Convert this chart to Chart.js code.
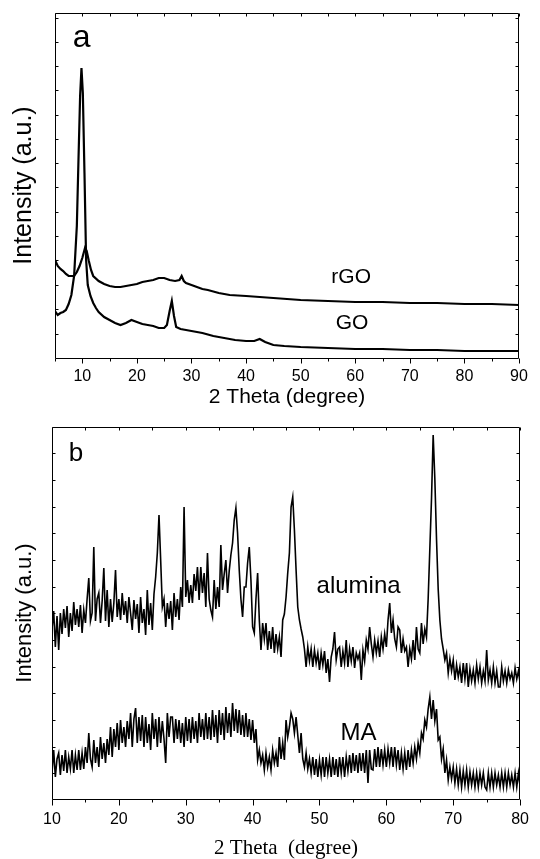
<!DOCTYPE html>
<html>
<head>
<meta charset="utf-8">
<script src="https://cdn.jsdelivr.net/npm/chart.js@4.4.1/dist/chart.umd.min.js"></script>
<style>
  html, body { margin: 0; padding: 0; background: #fff; }
  body { width: 540px; height: 859px; position: relative; overflow: hidden; }
  canvas { position: absolute; left: 0; }
  #ca { top: 0; }
  #cb { top: 420px; }
</style>
</head>
<body>
<canvas id="ca" width="540" height="420"></canvas>
<canvas id="cb" width="540" height="439"></canvas>
<script>
// ---------- Panel (a): GO / rGO ----------
const xTicksA = [10, 20, 30, 40, 50, 60, 70, 80, 90];
const xMinorA = [5, 10, 15, 20, 25, 30, 35, 40, 45, 50, 55, 60, 65, 70, 75, 80, 85, 90];
const yTicksA = [24, 49, 73, 98, 122, 146, 171, 195, 219, 243, 268, 292, 316, 340];

const goTheta = [5,5.5,6,6.5,7,7.5,8,8.5,9,9.3,
  9.6,9.85,10.1,10.4,10.7,11,11.5,12,12.5,13,
  14,15,16,17,18,19,20,21,22,23,
  24,25,25.5,26,26.4,26.8,27.2,28,29,30,
  32,34,36,38,40,41.5,42.5,43.5,45,47,
  50,55,60,65,70,75,80,85,90];
const goIntensity = [47,43,45,46,48,54,63,82,132,198,
  262,290,265,185,98,73,62,55,50,46,
  41,38,35,33,35,38,36,34,33,32,
  30,30,33,47,57,42,31,29,28,27,
  25,22,20,18,17,17,19,16,13,12,
  11,10,9,9,8,8,7,7,7];

const rgoTheta = [5,5.5,6,6.5,7,7.5,8,8.5,9,9.5,
  10,10.5,10.8,11.2,11.6,12,13,14,15,16,
  17,18,19,20,21,22,23,24,25,26,
  27,27.8,28.2,28.6,29,30,31,32,33,35,
  37,40,45,50,55,60,65,70,75,80,
  85,90];
const rgoIntensity = [98,92,89,87,84,82,82,82,86,92,
  100,110,107,97,88,82,77,74,72,71,
  71,72,73,74,76,77,78,80,80,78,
  77,78,82,77,75,73,71,69,68,65,
  63,62,60,58,57,56,56,55,55,54,
  54,53];

const labelsA = [
  { text: 'a',   x: 9.9,   y: 311, size: 32 },
  { text: 'rGO', x: 59.25, y: 75,  size: 21 },
  { text: 'GO',  x: 59.4,  y: 28.7, size: 21 }
];

// ---------- Panel (b): alumina / MA (shared 2θ grid, 0.25° steps) ----------
const xTicksB = [10, 20, 30, 40, 50, 60, 70, 80];
const xMinorB = [10, 15, 20, 25, 30, 35, 40, 45, 50, 55, 60, 65, 70, 75, 80];
const yTicksB = [26, 52, 79, 106, 132, 159, 186, 212, 239, 266, 292, 319, 346];

const thetaB = [
  10,10.25,10.5,10.75, 11,11.25,11.5,11.75, 12,12.25,12.5,12.75, 13,13.25,13.5,13.75, 14,14.25,14.5,14.75,
  15,15.25,15.5,15.75, 16,16.25,16.5,16.75, 17,17.25,17.5,17.75, 18,18.25,18.5,18.75, 19,19.25,19.5,19.75,
  20,20.25,20.5,20.75, 21,21.25,21.5,21.75, 22,22.25,22.5,22.75, 23,23.25,23.5,23.75, 24,24.25,24.5,24.75,
  25,25.25,25.5,25.75, 26,26.25,26.5,26.75, 27,27.25,27.5,27.75, 28,28.25,28.5,28.75, 29,29.25,29.5,29.75,
  30,30.25,30.5,30.75, 31,31.25,31.5,31.75, 32,32.25,32.5,32.75, 33,33.25,33.5,33.75, 34,34.25,34.5,34.75,
  35,35.25,35.5,35.75, 36,36.25,36.5,36.75, 37,37.25,37.5,37.75, 38,38.25,38.5,38.75, 39,39.25,39.5,39.75,
  40,40.25,40.5,40.75, 41,41.25,41.5,41.75, 42,42.25,42.5,42.75, 43,43.25,43.5,43.75, 44,44.25,44.5,44.75,
  45,45.25,45.5,45.75, 46,46.25,46.5,46.75, 47,47.25,47.5,47.75, 48,48.25,48.5,48.75, 49,49.25,49.5,49.75,
  50,50.25,50.5,50.75, 51,51.25,51.5,51.75, 52,52.25,52.5,52.75, 53,53.25,53.5,53.75, 54,54.25,54.5,54.75,
  55,55.25,55.5,55.75, 56,56.25,56.5,56.75, 57,57.25,57.5,57.75, 58,58.25,58.5,58.75, 59,59.25,59.5,59.75,
  60,60.25,60.5,60.75, 61,61.25,61.5,61.75, 62,62.25,62.5,62.75, 63,63.25,63.5,63.75, 64,64.25,64.5,64.75,
  65,65.25,65.5,65.75, 66,66.25,66.5,66.75, 67,67.25,67.5,67.75, 68,68.25,68.5,68.75, 69,69.25,69.5,69.75,
  70,70.25,70.5,70.75, 71,71.25,71.5,71.75, 72,72.25,72.5,72.75, 73,73.25,73.5,73.75, 74,74.25,74.5,74.75,
  75,75.25,75.5,75.75, 76,76.25,76.5,76.75, 77,77.25,77.5,77.75, 78,78.25,78.5,78.75, 79,79.25,79.5,79.75,
  80];

const aluminaIntensity = [
  170,188,152,183, 149,186,165,190, 171,193,162,186, 168,197,174,190, 172,194,166,189,
  176,200,221,178, 186,252,178,200, 206,176,198,231, 178,209,172,200, 177,196,229,182,
  200,179,206,184, 198,176,202,186, 169,199,180,195, 166,202,176,190, 164,209,174,196,
  169,205,222,246, 284,239,192,200, 172,196,180,198, 169,206,182,200, 179,212,192,292,
  202,219,196,214, 196,225,208,232, 199,232,206,226, 192,246,200,189, 182,219,190,212,
  192,254,209,225, 239,206,228,244, 256,279,291,266, 229,200,182,212, 212,236,252,219,
  172,166,200,226, 179,149,176,160, 176,149,168,150, 172,146,165,150, 162,142,179,185,
  202,226,246,292, 302,269,229,192, 179,170,162,150, 132,152,138,150, 132,149,136,146,
  129,146,134,148, 126,140,117,142, 150,167,139,150, 152,132,148,136, 159,132,150,138,
  152,131,146,140, 146,119,149,138, 159,150,172,155, 142,159,146,158, 142,162,150,165,
  152,179,196,166, 179,160,152,172, 169,146,160,148, 152,132,150,140, 159,139,172,150,
  146,176,155,170, 162,200,250,300, 364,320,260,210, 179,160,150,139, 146,126,140,128,
  139,119,134,122, 132,116,136,120, 136,112,130,118, 129,116,134,120, 132,116,128,118,
  149,119,129,116, 132,116,128,112, 112,132,118,128, 116,129,120,126, 116,131,120,128,
  116];

const maIntensity = [
  26,49,22,40, 46,24,44,28, 49,26,42,30, 49,26,44,29, 49,29,46,30,
  52,36,66,40, 32,59,36,52, 32,62,40,56, 36,60,44,72, 42,70,52,76,
  49,79,56,72, 52,78,60,86, 52,80,91,56, 82,58,84,52, 82,56,75,49,
  86,60,80,52, 82,56,78,60, 36,86,62,82, 82,56,80,60, 79,56,76,52,
  82,58,80,56, 82,60,78,56, 86,62,80,59, 86,60,82,59, 89,62,84,56,
  89,64,86,59, 92,66,86,62, 96,68,90,66, 89,64,84,62, 86,62,80,59,
  79,56,70,39, 49,36,44,29, 46,32,42,29, 49,36,46,32, 62,40,56,39,
  79,62,72,86, 80,66,82,64, 46,66,40,32, 46,30,40,26, 42,24,40,22,
  39,24,42,22, 42,26,40,22, 42,24,40,22, 42,26,42,22, 42,28,44,26,
  46,28,44,26, 46,28,46,26, 49,16,49,30, 29,50,32,52, 32,50,34,49,
  32,50,36,52, 32,52,34,49, 29,46,30,46, 29,49,32,49, 36,52,40,56,
  46,66,60,79, 72,90,102,80, 99,78,90,59, 62,40,50,26, 39,19,32,20,
  32,16,30,14, 29,12,28,14, 29,12,27,14, 26,12,26,12, 26,14,26,12,
  9,26,12,26, 12,26,14,24, 12,26,12,26, 12,26,14,24, 12,26,12,26,
  12];

const labelsB = [
  { text: 'b',       x: 13.58, y: 338,   size: 26 },
  { text: 'alumina', x: 55.85, y: 205.7, size: 24 },
  { text: 'MA',      x: 55.85, y: 59,    size: 24 }
];

// ---------- helpers ----------
const SANS = '"Liberation Sans", Arial, sans-serif';
const SERIF = '"Liberation Serif", "Times New Roman", serif';
const pairs = (xs, ys) => xs.map((v, i) => ({ x: v, y: ys[i] }));

const frameTicks = {
  id: 'frameTicks',
  afterDraw(chart, args, o) {
    const { ctx, chartArea: a, scales: { x, y } } = chart;
    const L = Math.round(a.left) + 0.5, R = Math.round(a.right) - 0.5;
    const T = Math.round(a.top) + 0.5, B = Math.round(a.bottom) + 0.5;
    ctx.save();
    ctx.strokeStyle = '#000';
    ctx.lineWidth = 1;
    ctx.beginPath();
    ctx.rect(L, T, R - L, B - T);
    o.xMinor.forEach(v => {
      const px = Math.round(x.getPixelForValue(v)) + 0.5;
      const len = o.xMajor.includes(v) ? o.majorLen : o.minorLen;
      ctx.moveTo(px, B); ctx.lineTo(px, B + len);
      ctx.moveTo(px, T); ctx.lineTo(px, T + o.topLen);
    });
    o.yTicks.forEach(v => {
      const py = Math.round(y.getPixelForValue(v)) + 0.5;
      ctx.moveTo(L, py); ctx.lineTo(L + o.sideLen, py);
      ctx.moveTo(R, py); ctx.lineTo(R - o.sideLen, py);
    });
    ctx.stroke();
    ctx.fillStyle = '#000';
    ctx.textAlign = 'center';
    ctx.textBaseline = 'alphabetic';
    o.labels.forEach(l => {
      ctx.font = l.size + 'px ' + SANS;
      ctx.fillText(l.text, x.getPixelForValue(l.x), y.getPixelForValue(l.y));
    });
    ctx.restore();
  }
};

function makeChart(id, cfg) {
  return new Chart(document.getElementById(id), {
    type: 'line',
    data: {
      datasets: cfg.series.map(s => ({
        label: s.label,
        data: pairs(s.xs, s.ys),
        borderColor: '#000',
        borderWidth: cfg.lineWidth,
        pointRadius: 0,
        tension: 0,
        fill: false
      }))
    },
    options: {
      responsive: false,
      devicePixelRatio: 1,
      animation: false,
      events: [],
      layout: { padding: cfg.padding },
      plugins: {
        legend: { display: false },
        tooltip: { enabled: false },
        frameTicks: {
          xMajor: cfg.xTicks, xMinor: cfg.xMinor, yTicks: cfg.yTicks,
          majorLen: cfg.majorLen, minorLen: 3, topLen: 3, sideLen: 3,
          labels: cfg.labels
        }
      },
      scales: {
        x: {
          type: 'linear',
          position: 'bottom',
          min: cfg.xMin, max: cfg.xMax,
          afterBuildTicks: sc => { sc.ticks = cfg.xTicks.map(v => ({ value: v })); },
          afterFit: sc => { sc.height = cfg.xHeight; },
          grid: { display: false, drawTicks: false },
          border: { display: false },
          ticks: {
            color: '#000', padding: cfg.tickPad, maxRotation: 0, autoSkip: false,
            font: { family: SANS, size: 16 }
          },
          title: {
            display: true, text: cfg.xTitle, color: '#000',
            font: cfg.xTitleFont, padding: cfg.xTitlePad
          }
        },
        y: {
          type: 'linear',
          position: 'left',
          min: 0, max: cfg.yMax,
          afterFit: sc => { sc.width = cfg.yWidth; },
          grid: { display: false, drawTicks: false },
          border: { display: false },
          ticks: { display: false },
          title: {
            display: true, text: 'Intensity (a.u.)', color: '#000',
            font: { family: SANS, size: cfg.yTitleSize },
            padding: cfg.yTitlePad
          }
        }
      }
    },
    plugins: [frameTicks]
  });
}

makeChart('ca', {
  series: [
    { label: 'GO', xs: goTheta, ys: goIntensity },
    { label: 'rGO', xs: rgoTheta, ys: rgoIntensity }
  ],
  lineWidth: 2.2,
  padding: { left: 0, top: 13, right: 21, bottom: 0 },
  xMin: 5, xMax: 90, xTicks: xTicksA, xMinor: xMinorA, yTicks: yTicksA,
  majorLen: 5, xHeight: 62, yWidth: 55, yMax: 345, tickPad: 9,
  xTitle: '2 Theta (degree)',
  xTitleFont: { family: SANS, size: 21 },
  xTitlePad: { top: 0, bottom: 10 },
  yTitleSize: 25, yTitlePad: { top: 9, bottom: 0 },
  labels: labelsA
});

makeChart('cb', {
  series: [
    { label: 'alumina', xs: thetaB, ys: aluminaIntensity },
    { label: 'MA', xs: thetaB, ys: maIntensity }
  ],
  lineWidth: 1.6,
  padding: { left: 0, top: 7, right: 13, bottom: 0 },
  xMin: 10, xMax: 80, xTicks: xTicksB, xMinor: xMinorB, yTicks: yTicksB,
  majorLen: 6, xHeight: 60, yWidth: 52, yMax: 372, tickPad: 11,
  xTitle: '2 Theta  (degree)',
  xTitleFont: { family: SERIF, size: 21, lineHeight: 1 },
  xTitlePad: { top: 0, bottom: 0 },
  yTitleSize: 22, yTitlePad: { top: 12, bottom: 0 },
  labels: labelsB
});
</script>
</body>
</html>
